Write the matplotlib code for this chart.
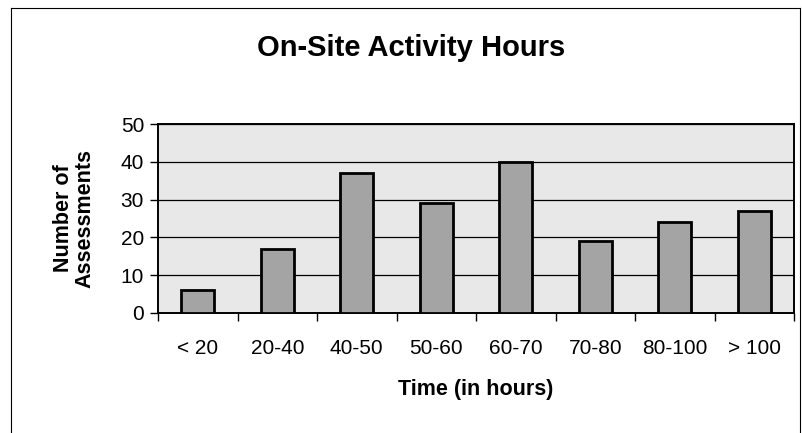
import matplotlib
matplotlib.use("Agg")
import matplotlib.pyplot as plt
from matplotlib.lines import Line2D
import numpy as np

# ── Data ──────────────────────────────────────────────────────────────────────
categories = ["< 20", "20-40", "40-50", "50-60", "60-70", "70-80", "80-100", "> 100"]
assessments = [6, 17, 37, 29, 40, 19, 24, 27]
y_ticks = [0, 10, 20, 30, 40, 50]

# ── Style ─────────────────────────────────────────────────────────────────────
plt.rcParams.update({
    "font.family": ["Liberation Sans", "DejaVu Sans"],
    "text.color": "black",
})

PLOT_BG = "#e8e8e8"
BAR_FACE = "#a4a4a4"

fig = plt.figure(figsize=(8.02, 4.33), dpi=100)
fig.patch.set_facecolor("white")
ax = fig.add_axes([158 / 802, 1 - 313 / 433, (794 - 158) / 802, (313 - 124) / 433])
ax.set_facecolor(PLOT_BG)

x = np.arange(len(categories))
ax.bar(x, assessments, width=0.41, color=BAR_FACE, edgecolor="black",
       linewidth=2.0, zorder=3)

ax.set_xlim(-0.5, len(categories) - 0.5)
ax.set_ylim(0, 50)
ax.set_yticks(y_ticks)
ax.yaxis.grid(True, color="black", linewidth=0.9, zorder=1)
ax.set_axisbelow(True)

# category labels, ticks sit between categories
ax.set_xticks(x)
ax.set_xticklabels(categories, fontsize=15)
ax.set_xticks(np.arange(-0.5, len(categories)), minor=True)
ax.tick_params(axis="x", which="major", length=0, pad=19)
ax.tick_params(axis="x", which="minor", length=6, width=1.0, direction="out")
ax.tick_params(axis="y", length=6, width=1.0, direction="out", labelsize=15, pad=4)

for s in ax.spines.values():
    s.set_linewidth(1.4)
    s.set_color("black")

# ── Text ──────────────────────────────────────────────────────────────────────
fig.text(411 / 802, 1 - 56 / 433, "On-Site Activity Hours", ha="center",
         va="baseline", fontsize=21, fontweight="bold")
fig.text(476 / 802, 1 - 395 / 433, "Time (in hours)", ha="center",
         va="baseline", fontsize=15.5, fontweight="bold")
fig.text(74 / 802, 1 - 218 / 433, "Number of\nAssessments", ha="center",
         va="center", rotation=90, fontsize=15.5, fontweight="bold",
         linespacing=1.05)

# figure frame (left, top, right edges as in the scan)
fig.add_artist(Line2D([11 / 802, 11 / 802], [0, 1 - 8 / 433],
                      transform=fig.transFigure, color="black", lw=0.8))
fig.add_artist(Line2D([11 / 802, 800 / 802], [1 - 8 / 433, 1 - 8 / 433],
                      transform=fig.transFigure, color="black", lw=0.8))
fig.add_artist(Line2D([800 / 802, 800 / 802], [0, 1 - 8 / 433],
                      transform=fig.transFigure, color="black", lw=0.8))

fig.savefig("out.png", dpi=100)
